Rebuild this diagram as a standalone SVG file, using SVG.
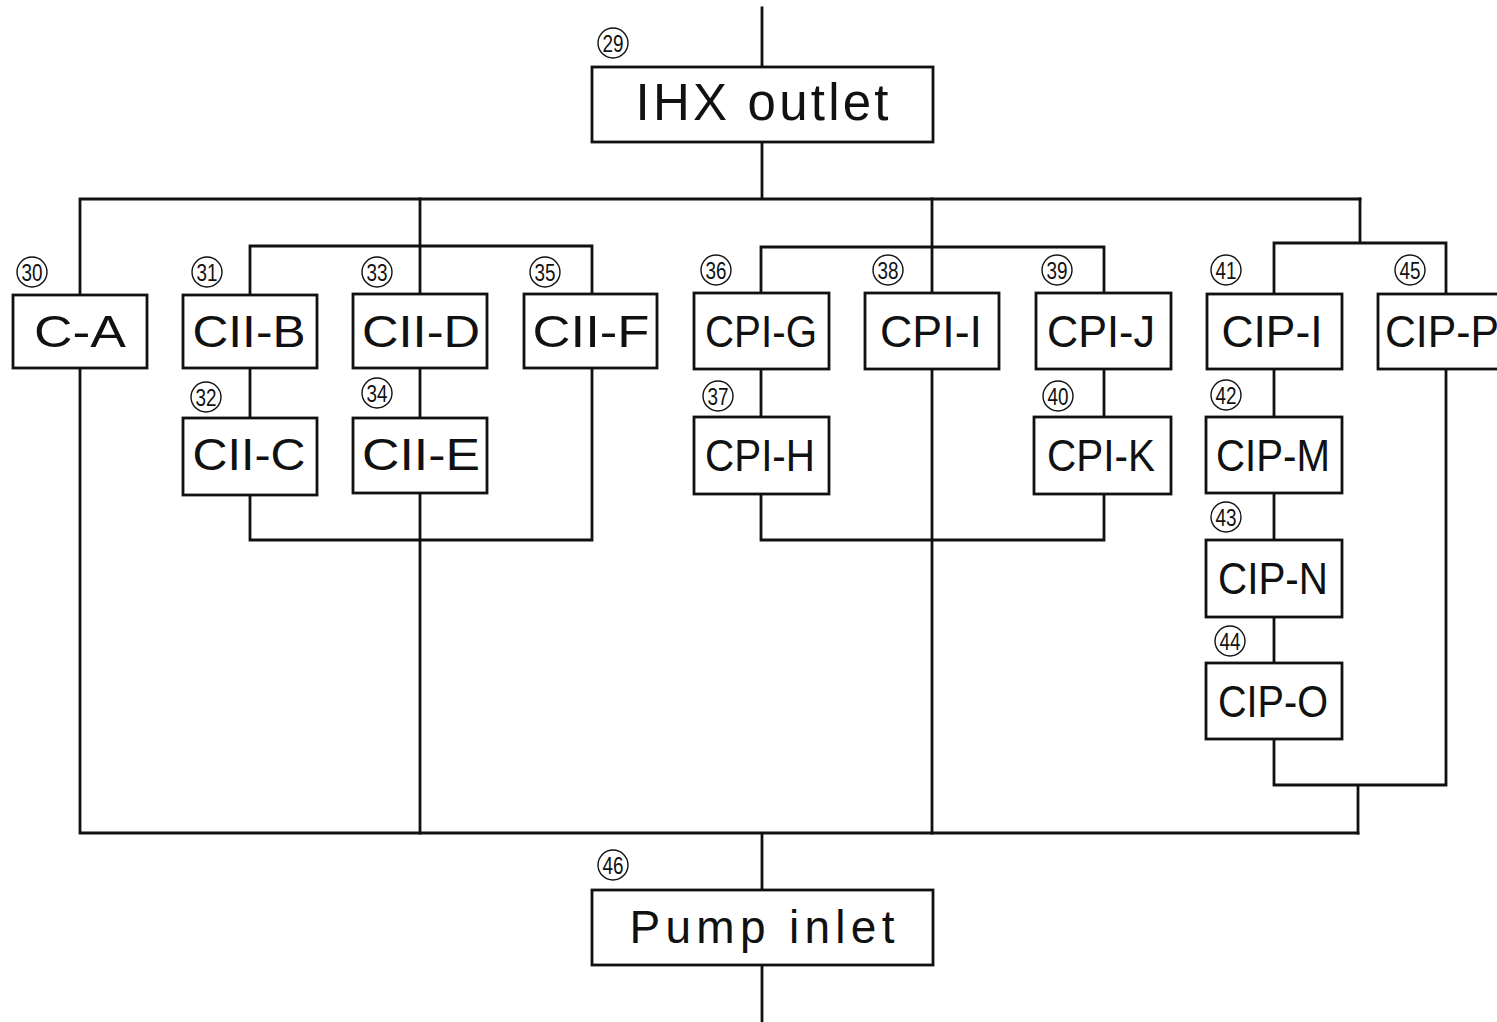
<svg xmlns="http://www.w3.org/2000/svg" width="1497" height="1022" viewBox="0 0 1497 1022">
<style>
.ln{fill:none;stroke:#111;stroke-width:2.8;stroke-linecap:square}
.bx{fill:#fff;stroke:#111;stroke-width:2.8}
.t{font-family:"Liberation Sans",Arial,sans-serif;font-size:44px;fill:#111;text-anchor:middle}
.big{font-family:"Liberation Sans",Arial,sans-serif;fill:#111;text-anchor:middle}
.c{fill:none;stroke:#111;stroke-width:1.4}
.n{font-family:"Liberation Sans",Arial,sans-serif;font-size:24px;fill:#111;text-anchor:middle}
</style>
<rect width="1497" height="1022" fill="#fff"/>
<g id="connectors">
<path class="ln" d="M762 8V67M762 142V199M80 199H1360M80 199V295M80 368V833M80 833H1358M762 833V890M762 965V1022"/>
<path class="ln" d="M420 199V294M420 368V418M420 493V833M250 246H592M250 246V295M250 368V418M250 495V540M592 246V294M592 368V540M250 540H592"/>
<path class="ln" d="M932 199V293M932 369V833M761 247H1104M761 247V293M761 369V417M761 494V540M1104 247V293M1104 369V417M1104 494V540M761 540H1104"/>
<path class="ln" d="M1360 199V243M1274 243H1446M1274 243V294M1274 369V417M1274 493V540M1274 617V663M1274 739V785M1446 243V294M1446 369V785M1274 785H1446M1358 785V833"/>
</g>
<g id="n29"><rect class="bx" x="592" y="67" width="341" height="75"/><text class="big" x="762" y="120" font-size="51" textLength="253" lengthAdjust="spacing">IHX outlet</text><circle class="c" cx="613" cy="43" r="15"/><text class="n" x="613" y="51.5" textLength="21" lengthAdjust="spacingAndGlyphs">29</text></g>
<g id="n30"><rect class="bx" x="13" y="295" width="134" height="73"/><text class="t" x="80" y="347" textLength="92" lengthAdjust="spacingAndGlyphs">C-A</text><circle class="c" cx="32" cy="272" r="15"/><text class="n" x="32" y="280.5" textLength="21" lengthAdjust="spacingAndGlyphs">30</text></g>
<g id="n31"><rect class="bx" x="183" y="295" width="134" height="73"/><text class="t" x="249" y="347" textLength="113" lengthAdjust="spacingAndGlyphs">CII-B</text><circle class="c" cx="207" cy="272" r="15"/><text class="n" x="207" y="280.5" textLength="21" lengthAdjust="spacingAndGlyphs">31</text></g>
<g id="n32"><rect class="bx" x="183" y="418" width="134" height="77"/><text class="t" x="249" y="470" textLength="113" lengthAdjust="spacingAndGlyphs">CII-C</text><circle class="c" cx="206" cy="397" r="15"/><text class="n" x="206" y="405.5" textLength="21" lengthAdjust="spacingAndGlyphs">32</text></g>
<g id="n33"><rect class="bx" x="353" y="294" width="134" height="74"/><text class="t" x="421" y="347" textLength="118" lengthAdjust="spacingAndGlyphs">CII-D</text><circle class="c" cx="377" cy="272" r="15"/><text class="n" x="377" y="280.5" textLength="21" lengthAdjust="spacingAndGlyphs">33</text></g>
<g id="n34"><rect class="bx" x="353" y="418" width="134" height="75"/><text class="t" x="421" y="470" textLength="118" lengthAdjust="spacingAndGlyphs">CII-E</text><circle class="c" cx="377" cy="393" r="15"/><text class="n" x="377" y="401.5" textLength="21" lengthAdjust="spacingAndGlyphs">34</text></g>
<g id="n35"><rect class="bx" x="524" y="294" width="133" height="74"/><text class="t" x="591" y="347" textLength="117" lengthAdjust="spacingAndGlyphs">CII-F</text><circle class="c" cx="545" cy="272" r="15"/><text class="n" x="545" y="280.5" textLength="21" lengthAdjust="spacingAndGlyphs">35</text></g>
<g id="n36"><rect class="bx" x="694" y="293" width="135" height="76"/><text class="t" x="761" y="347" textLength="112" lengthAdjust="spacingAndGlyphs">CPI-G</text><circle class="c" cx="716" cy="270" r="15"/><text class="n" x="716" y="278.5" textLength="21" lengthAdjust="spacingAndGlyphs">36</text></g>
<g id="n37"><rect class="bx" x="694" y="417" width="135" height="77"/><text class="t" x="760" y="471" textLength="110" lengthAdjust="spacingAndGlyphs">CPI-H</text><circle class="c" cx="718" cy="396" r="15"/><text class="n" x="718" y="404.5" textLength="21" lengthAdjust="spacingAndGlyphs">37</text></g>
<g id="n38"><rect class="bx" x="865" y="293" width="134" height="76"/><text class="t" x="931" y="347" textLength="102" lengthAdjust="spacingAndGlyphs">CPI-I</text><circle class="c" cx="888" cy="270" r="15"/><text class="n" x="888" y="278.5" textLength="21" lengthAdjust="spacingAndGlyphs">38</text></g>
<g id="n39"><rect class="bx" x="1036" y="293" width="135" height="76"/><text class="t" x="1101" y="347" textLength="108" lengthAdjust="spacingAndGlyphs">CPI-J</text><circle class="c" cx="1057" cy="270" r="15"/><text class="n" x="1057" y="278.5" textLength="21" lengthAdjust="spacingAndGlyphs">39</text></g>
<g id="n40"><rect class="bx" x="1034" y="417" width="137" height="77"/><text class="t" x="1101" y="471" textLength="108" lengthAdjust="spacingAndGlyphs">CPI-K</text><circle class="c" cx="1058" cy="396" r="15"/><text class="n" x="1058" y="404.5" textLength="21" lengthAdjust="spacingAndGlyphs">40</text></g>
<g id="n41"><rect class="bx" x="1207" y="294" width="135" height="75"/><text class="t" x="1272" y="347" textLength="101" lengthAdjust="spacingAndGlyphs">CIP-I</text><circle class="c" cx="1226" cy="270" r="15"/><text class="n" x="1226" y="278.5" textLength="21" lengthAdjust="spacingAndGlyphs">41</text></g>
<g id="n42"><rect class="bx" x="1206" y="417" width="136" height="76"/><text class="t" x="1273" y="471" textLength="114" lengthAdjust="spacingAndGlyphs">CIP-M</text><circle class="c" cx="1226" cy="395" r="15"/><text class="n" x="1226" y="403.5" textLength="21" lengthAdjust="spacingAndGlyphs">42</text></g>
<g id="n43"><rect class="bx" x="1206" y="540" width="136" height="77"/><text class="t" x="1273" y="594" textLength="110" lengthAdjust="spacingAndGlyphs">CIP-N</text><circle class="c" cx="1226" cy="517" r="15"/><text class="n" x="1226" y="525.5" textLength="21" lengthAdjust="spacingAndGlyphs">43</text></g>
<g id="n44"><rect class="bx" x="1206" y="663" width="136" height="76"/><text class="t" x="1273" y="717" textLength="110" lengthAdjust="spacingAndGlyphs">CIP-O</text><circle class="c" cx="1230" cy="641" r="15"/><text class="n" x="1230" y="649.5" textLength="21" lengthAdjust="spacingAndGlyphs">44</text></g>
<g id="n45"><rect class="bx" x="1378" y="294" width="140" height="75"/><text class="t" x="1385" y="347" style="text-anchor:start" textLength="114" lengthAdjust="spacingAndGlyphs">CIP-P</text><circle class="c" cx="1410" cy="270" r="15"/><text class="n" x="1410" y="278.5" textLength="21" lengthAdjust="spacingAndGlyphs">45</text></g>
<g id="n46"><rect class="bx" x="592" y="890" width="341" height="75"/><text class="big" x="762" y="943" font-size="46" textLength="265" lengthAdjust="spacing">Pump inlet</text><circle class="c" cx="613" cy="865" r="15"/><text class="n" x="613" y="873.5" textLength="21" lengthAdjust="spacingAndGlyphs">46</text></g>
</svg>
